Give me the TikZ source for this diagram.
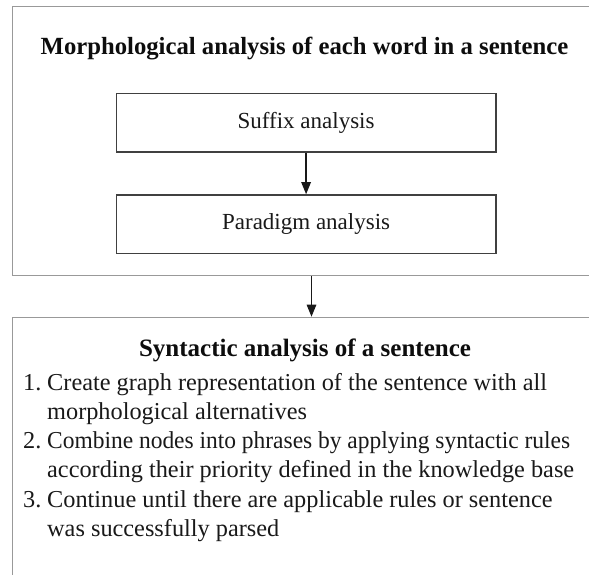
\documentclass[tikz,border=0pt]{standalone}
\usepackage{fontspec}
\setmainfont{Liberation Serif}
\usetikzlibrary{arrows.meta}
\begin{document}
\begin{tikzpicture}[x=1pt,y=-1pt,
  outerbox/.style={draw=black!40, line width=1.3pt, inner sep=0pt, anchor=north west, minimum width=598.3pt},
  innerbox/.style={draw=black!75, line width=1.5pt, inner sep=0pt, anchor=north west, minimum width=379.3pt, minimum height=58.5pt, text=black!90, font=\fontsize{23}{27}\selectfont},
  conn/.style={-{Triangle[length=12pt,width=9.5pt]}, line width=1.3pt, draw=black!90},
  txt/.style={inner sep=0pt, anchor=base west, text=black!90, font=\fontsize{24.3}{29}\selectfont},
  ttl/.style={inner sep=0pt, anchor=base, text=black!95, font=\bfseries\fontsize{24.7}{29}\selectfont}]
\useasboundingbox (0,0) rectangle (589,575);
\clip (0,0) rectangle (589,575);
\fill[white] (0,0) rectangle (589,575);
% top box
\node[outerbox, minimum height=269.3pt] (morph) at (11.7,5.7) {};
\node[ttl] (mtitle) at (304.5,55) {Morphological analysis of each word in a sentence};
\node[innerbox] (suffix) at (115.7,92.7) {Suffix analysis};
\node[innerbox] (paradigm) at (115.7,194.2) {Paradigm analysis};
\draw[conn] (suffix.south) -- (paradigm.north);
% bottom box
\node[outerbox, minimum height=300pt] (synt) at (11.7,316.7) {};
\draw[conn] (morph.south) -- (synt.north);
\node[ttl, font=\bfseries\fontsize{25}{29}\selectfont] (stitle) at (305,356) {Syntactic analysis of a sentence};
\node[txt] (n1) at (23,390.7) {1.};
\node[txt] (l1a) at (47,390.7) {Create graph representation of the sentence with all};
\node[txt] (l1b) at (47,419.5) {morphological alternatives};
\node[txt] (n2) at (23,448.8) {2.};
\node[txt] (l2a) at (47,448.8) {\scalebox{0.965}[1]{Combine nodes into phrases by applying syntactic rules}};
\node[txt] (l2b) at (47,477.7) {according their priority defined in the knowledge base};
\node[txt] (n3) at (23,507.5) {3.};
\node[txt] (l3a) at (47,507.5) {Continue until there are applicable rules or sentence};
\node[txt] (l3b) at (47,536.8) {was successfully parsed};
\end{tikzpicture}
\end{document}
